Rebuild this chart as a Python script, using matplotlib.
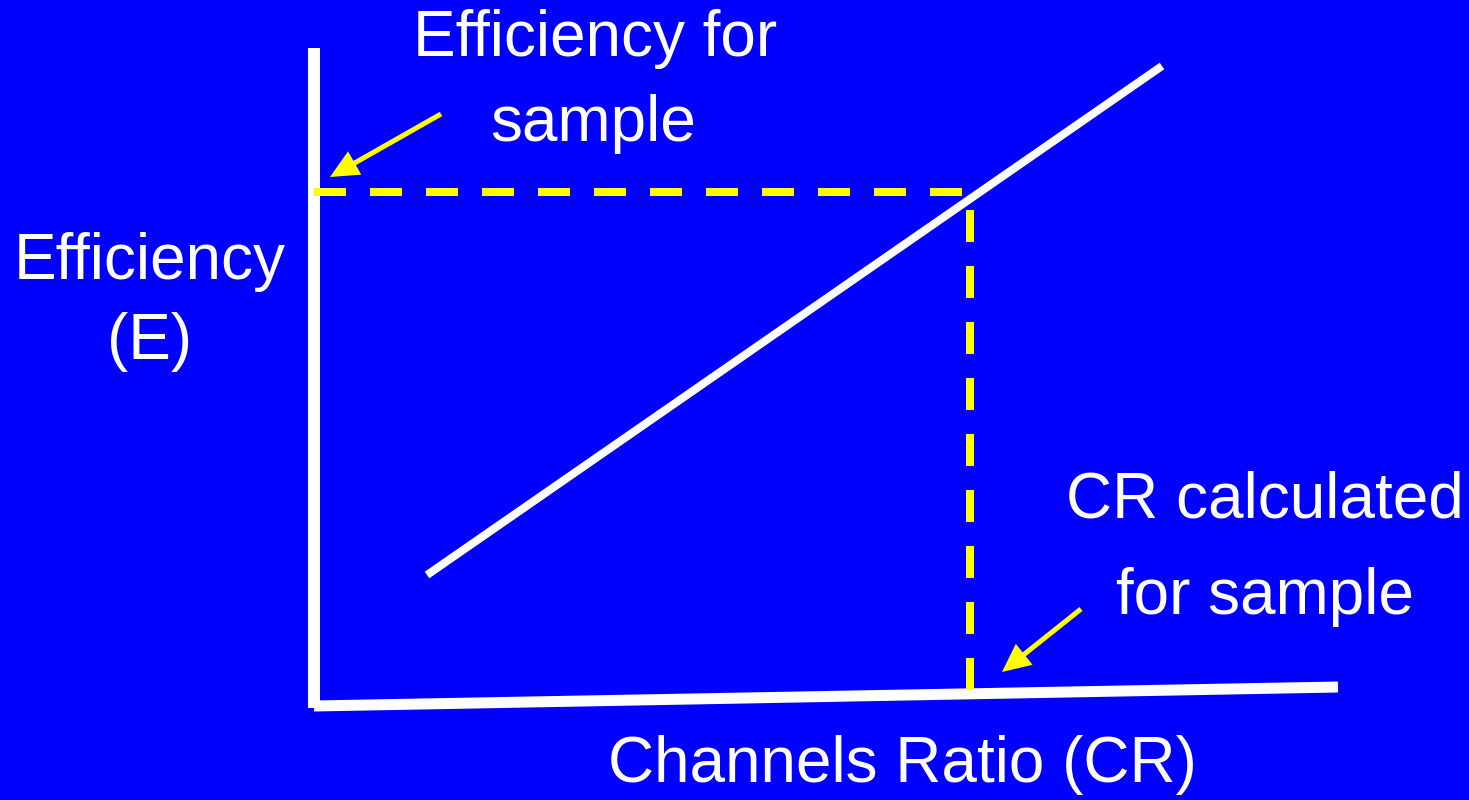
import matplotlib
matplotlib.use("Agg")
import matplotlib.pyplot as plt
from matplotlib.patches import FancyArrowPatch

# Canvas coordinates (pixels, y grows downward)
W, H = 1469, 800
BG = "#0000FF"
YELLOW = "#FFFF00"
WHITE = "#FFFFFF"

# Axes strokes
y_axis_x = [314, 314]
y_axis_y = [48, 708]
x_axis_x = [314, 1338]
x_axis_y = [706, 687]

# Calibration line: efficiency vs channels ratio
calib_x = [427, 1162]
calib_y = [575, 66]

# Reading for the sample
sample_x = 970
sample_y = 192
axis_left = 314
axis_bottom = 690

# Pointer arrows (tail, head)
arrow_eff = ((441, 114), (330, 177))
arrow_cr = ((1081, 609), (1002, 672))

fig = plt.figure(figsize=(W / 100, H / 100), dpi=100, facecolor=BG)
ax = fig.add_axes([0, 0, 1, 1])
ax.set_facecolor(BG)
ax.set_xlim(0, W)
ax.set_ylim(H, 0)
ax.axis("off")

lw_px = lambda px: px * 72 / 100

ax.plot(y_axis_x, y_axis_y, color=WHITE, lw=lw_px(12), solid_capstyle="butt")
ax.plot(x_axis_x, x_axis_y, color=WHITE, lw=lw_px(11), solid_capstyle="butt")
ax.plot(calib_x, calib_y, color=WHITE, lw=lw_px(8), solid_capstyle="butt")

dash = (32 / 8, 24 / 8)
ax.plot([axis_left, sample_x], [sample_y, sample_y], color=YELLOW,
        lw=lw_px(8), dashes=dash, dash_capstyle="butt")
ax.plot([sample_x, sample_x], [axis_bottom, sample_y], color=YELLOW,
        lw=lw_px(8), dashes=dash, dash_capstyle="butt")

for (tail, head) in (arrow_eff, arrow_cr):
    arr = FancyArrowPatch(tail, head, arrowstyle="-|>,head_length=0.72,head_width=0.34",
                          mutation_scale=20, color=YELLOW, lw=lw_px(5),
                          shrinkA=0, shrinkB=0, capstyle="butt", joinstyle="miter")
    ax.add_patch(arr)

font = dict(family=["Liberation Sans", "DejaVu Sans"], color=WHITE, fontsize=46)
ax.text(595, 39, "Efficiency for", ha="center", va="center", **font)
ax.text(593, 124, "sample", ha="center", va="center", **font)
ax.text(150, 262, "Efficiency", ha="center", va="center", **font)
ax.text(150, 342, "(E)", ha="center", va="center", **font)
ax.text(1265, 500, "CR calculated", ha="center", va="center", **font)
ax.text(1265, 597, "for sample", ha="center", va="center", **font)
ax.text(902, 765, "Channels Ratio (CR)", ha="center", va="center", **font)

fig.savefig("out.png", dpi=100, facecolor=BG)
